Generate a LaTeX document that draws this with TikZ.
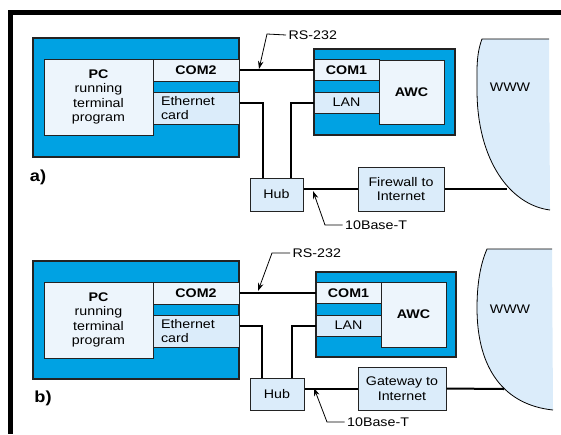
\documentclass[tikz,border=0pt]{standalone}
\usepackage{fontspec}
\setmainfont{Liberation Sans}[FakeStretch=1.14]
\usetikzlibrary{arrows.meta}
\definecolor{cardblue}{RGB}{0,162,227}
\definecolor{paleblue}{RGB}{237,245,252}
\definecolor{liteblue}{RGB}{219,236,250}
\definecolor{edgegray}{RGB}{35,35,35}
\begin{document}
\begin{tikzpicture}[x=1pt,y=-1pt,
    every node/.style={font=\fontsize{12.5}{14.5}\selectfont},
    card/.style={draw=edgegray,line width=1.1,fill=cardblue,inner sep=0},
    pane/.style={draw=edgegray,line width=1,fill=paleblue,inner sep=0},
    port/.style={draw=edgegray,line width=1,fill=liteblue,inner sep=0},
    tag/.style={anchor=west,inner xsep=2.5,inner ysep=0},
    wire/.style={line width=2},
    lead/.style={line width=0.8,-{Stealth[length=8pt,width=5.5pt]}},
    panel/.style={font=\bfseries\fontsize{16}{16}\selectfont}]
  \useasboundingbox (0,0) rectangle (561,434);
  % frame
  \fill (8,10) rectangle (561,15);
  \fill (8,10) rectangle (13,434);

  % a) firewall
  \node[card,minimum width=206,minimum height=119] (pcA) at (136,97.5) {};
  \node[pane,minimum width=109,minimum height=76,align=center] (pcinA) at (98.5,97) {\textbf{PC}\\running\\terminal\\program};
  \node[pane,minimum width=86,minimum height=22] (comtwoA) at (196,70) {\textbf{COM2}};
  \node[port,minimum width=86,minimum height=32,text width=70,align=left] (ethA) at (196,108) {Ethernet\\card};
  \node[card,minimum width=141,minimum height=86] (awcA) at (384.5,92) {};
  \node[pane,minimum width=65,minimum height=64] (awcinA) at (411.5,92) {\textbf{AWC}};
  \node[pane,minimum width=65,minimum height=21] (comoneA) at (346.5,70) {\textbf{COM1}};
  \node[port,minimum width=65,minimum height=21] (lanA) at (346.5,102.5) {LAN};
  \node[port,minimum width=53,minimum height=33] (hubA) at (276.5,194.5) {Hub};
  \node[port,minimum width=86,minimum height=44,align=center] (fwA) at (401,189) {Firewall to\\Internet};
  \fill[liteblue] (549,39) -- (482,39) .. controls (476,55) and (477,70) .. (477,90)
    .. controls (477,160) and (510,205) .. (550,210) -- cycle;
  \draw[line width=0.8] (549,39) -- (482,39) .. controls (476,55) and (477,70) .. (477,90)
    .. controls (477,160) and (510,205) .. (550,210);
  \node (wwwA) at (510,87) {WWW};
  \node[panel] (labA) at (38,177) {a)};
  \coordinate (hubAl) at (263,178);
  \coordinate (hubAr) at (291,178);
  \coordinate (netA) at (507,189);
  \draw[wire] (comtwoA.east) -- (comoneA.west);
  \draw[wire] (ethA.east |- lanA.west) -| (hubAl);
  \draw[wire] (lanA.west) -| (hubAr);
  \draw[wire] (hubA.east |- fwA.west) -- (fwA.west);
  \draw[wire] (fwA.east) -- (netA);
  \node[tag] (rsA) at (286,35) {RS-232};
  \coordinate (rsAk) at (267,34);
  \coordinate (rsAt) at (259,69);
  \draw[lead] (rsA.west) -- (rsAk) -- (rsAt);
  \node[tag] (tbA) at (342.5,225) {10Base-T};
  \coordinate (tbAk) at (325,225);
  \coordinate (tbAt) at (313,191);
  \draw[lead] (tbA.west) -- (tbAk) -- (tbAt);

  % b) gateway
  \node[card,minimum width=206,minimum height=118] (pcB) at (136,320) {};
  \node[pane,minimum width=109,minimum height=76,align=center] (pcinB) at (98.5,320) {\textbf{PC}\\running\\terminal\\program};
  \node[pane,minimum width=86,minimum height=22] (comtwoB) at (196,293) {\textbf{COM2}};
  \node[port,minimum width=86,minimum height=32,text width=70,align=left] (ethB) at (196,331) {Ethernet\\card};
  \node[card,minimum width=140,minimum height=85] (awcB) at (386,314.5) {};
  \node[pane,minimum width=65,minimum height=65] (awcinB) at (413.5,314.5) {\textbf{AWC}};
  \node[pane,minimum width=65,minimum height=21] (comoneB) at (348.5,293) {\textbf{COM1}};
  \node[port,minimum width=65,minimum height=21] (lanB) at (348.5,325.5) {LAN};
  \node[port,minimum width=54,minimum height=32] (hubB) at (277,394) {Hub};
  \node[port,minimum width=88,minimum height=43,align=center] (gwB) at (402,388.5) {Gateway to\\Internet};
  \fill[liteblue] (552,249) -- (487,249) .. controls (480,265) and (477,285) .. (477,308)
    .. controls (477,370) and (505,405) .. (553,410) -- cycle;
  \draw[line width=0.8] (552,249) -- (487,249) .. controls (480,265) and (477,285) .. (477,308)
    .. controls (477,370) and (505,405) .. (553,410);
  \node (wwwB) at (510,309) {WWW};
  \node[panel] (labB) at (43,398) {b)};
  \coordinate (hubBl) at (262,378);
  \coordinate (hubBr) at (292,378);
  \coordinate (netB) at (504,389);
  \draw[wire] (comtwoB.east) -- (comoneB.west);
  \draw[wire] (ethB.east |- lanB.west) -| (hubBl);
  \draw[wire] (lanB.west) -| (hubBr);
  \draw[wire] (hubB.east |- gwB.west) -- (gwB.west);
  \draw[wire] (gwB.east) -- (netB);
  \node[tag] (rsB) at (290,253) {RS-232};
  \coordinate (rsBk) at (272,253);
  \coordinate (rsBt) at (258,291);
  \draw[lead] (rsB.west) -- (rsBk) -- (rsBt);
  \node[tag] (tbB) at (344.5,422) {10Base-T};
  \coordinate (tbBk) at (327,422);
  \coordinate (tbBt) at (314,388);
  \draw[lead] (tbB.west) -- (tbBk) -- (tbBt);
\end{tikzpicture}
\end{document}
